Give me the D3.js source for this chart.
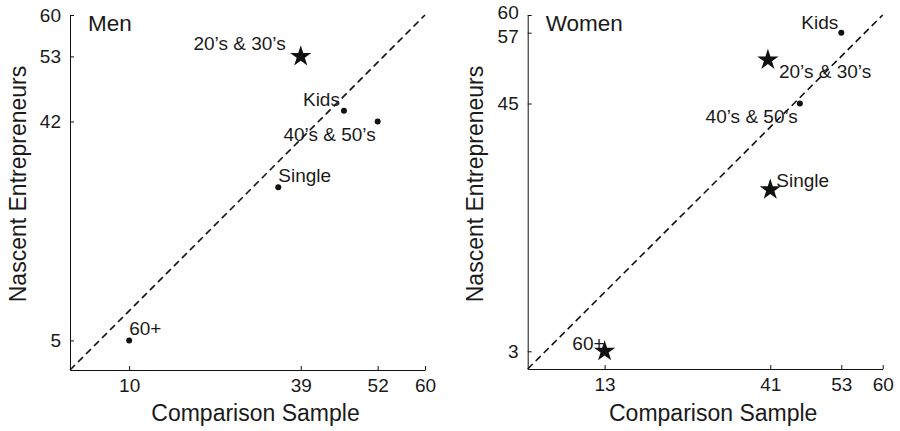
<!DOCTYPE html>
<html>
<head>
<meta charset="utf-8">
<script src="https://cdn.jsdelivr.net/npm/d3@7"></script>
<style>
  html, body { margin: 0; padding: 0; background: #fff; }
  svg { display: block; }
  text { font-family: "Liberation Sans", Arial, Helvetica, sans-serif; fill: #1a1a1a; }
</style>
</head>
<body>
<svg id="chart" width="900" height="431"></svg>
<script>
// ---- Data ----
const categories = ["20\u2019s & 30\u2019s", "Kids", "40\u2019s & 50\u2019s", "Single", "60+"];

const menComparison = [39, 46.3, 52, 35.2, 10];
const menNascent    = [53, 43.8, 42, 30.9, 5];
const menSignificant = [true, false, false, false, false];

const womenComparison = [40.6, 53, 46, 41, 13];
const womenNascent    = [52.4, 57, 45, 30.4, 3];
const womenSignificant = [true, false, false, true, true];

const menXTicks = [10, 39, 52, 60];
const menYTicks = [5, 42, 53, 60];
const womenXTicks = [13, 41, 53, 60];
const womenYTicks = [3, 45, 57, 60];

const axisDomain = [0, 60];
const xTitle = "Comparison Sample";
const yTitle = "Nascent Entrepreneurs";

// ---- Presentation (label placement relative to each point) ----
const menLabelPlacement = {
  "20\u2019s & 30\u2019s": { anchor: "end", dx: -15, dy: -6 },
  "Kids": { anchor: "end", dx: -4, dy: -5 },
  "40\u2019s & 50\u2019s": { anchor: "end", dx: -2, dy: 19 },
  "Single": { anchor: "start", dx: 0, dy: -5.5 },
  "60+": { anchor: "start", dx: 0, dy: -5 }
};
const womenLabelPlacement = {
  "20\u2019s & 30\u2019s": { anchor: "start", dx: 11, dy: 18 },
  "Kids": { anchor: "end", dx: -3, dy: -4 },
  "40\u2019s & 50\u2019s": { anchor: "end", dx: -2, dy: 19 },
  "Single": { anchor: "start", dx: 6, dy: -3 },
  "60+": { anchor: "end", dx: 0, dy: -1 }
};

const svg = d3.select("#chart");
const W = 355;

function drawPanel(opts) {
  const g = svg.append("g").attr("transform", `translate(${opts.left},${opts.top})`);
  const x = d3.scaleLinear().domain(axisDomain).range([0, W]);
  const y = d3.scaleLinear().domain(axisDomain).range([opts.h, 0]);

  // dashed identity line
  g.append("line")
    .attr("x1", x(axisDomain[0])).attr("y1", y(axisDomain[0]))
    .attr("x2", x(axisDomain[1])).attr("y2", y(axisDomain[1]))
    .attr("stroke", "#111").attr("stroke-width", 1.6)
    .attr("stroke-dasharray", "7,4.3");

  // axes
  const xAxis = d3.axisBottom(x).tickValues(opts.xTicks).tickSizeInner(-4).tickSizeOuter(0).tickPadding(9);
  const yAxis = d3.axisLeft(y).tickValues(opts.yTicks).tickSizeInner(-4).tickSizeOuter(0).tickPadding(9);

  const gx = g.append("g").attr("transform", `translate(0,${opts.h})`).call(xAxis);
  const gy = g.append("g").call(yAxis);
  [gx, gy].forEach(a => {
    a.select(".domain").attr("stroke", "#111").attr("stroke-width", 1);
    a.selectAll(".tick line").attr("stroke", "#111").attr("stroke-width", 1);
    a.selectAll(".tick text").attr("font-size", 19).attr("fill", "#1a1a1a")
      .attr("font-family", "'Liberation Sans', Arial, Helvetica, sans-serif");
  });
  if (opts.yTickDy) {
    gy.selectAll(".tick text").attr("dy", d => (opts.yTickDy[d] !== undefined ? opts.yTickDy[d] : 0.32) + "em");
  }

  // points
  const pts = categories.map((c, i) => ({ c, xv: opts.xs[i], yv: opts.ys[i], sig: opts.sig[i] }));
  const star = d3.symbol().type(d3.symbolStar).size(140);
  g.selectAll("path.star").data(pts.filter(d => d.sig)).join("path")
    .attr("class", "star")
    .attr("d", star)
    .attr("transform", d => `translate(${x(d.xv)},${y(d.yv)})`)
    .attr("fill", "#111");
  g.selectAll("circle.dot").data(pts.filter(d => !d.sig)).join("circle")
    .attr("class", "dot")
    .attr("cx", d => x(d.xv)).attr("cy", d => y(d.yv)).attr("r", 3)
    .attr("fill", "#111");

  // point labels
  g.selectAll("text.lbl").data(pts).join("text")
    .attr("class", "lbl")
    .attr("x", d => x(d.xv) + opts.place[d.c].dx)
    .attr("y", d => y(d.yv) + opts.place[d.c].dy)
    .attr("text-anchor", d => opts.place[d.c].anchor)
    .attr("font-size", 19)
    .text(d => d.c);

  // panel title
  g.append("text").attr("x", 18).attr("y", 16).attr("font-size", 22.5).text(opts.title);

  // axis titles
  g.append("text").attr("x", W / 2 + 8).attr("y", 406)
    .attr("text-anchor", "middle").attr("font-size", 23).text(xTitle);
  g.append("text")
    .attr("transform", `translate(${opts.yTitleX},${169}) rotate(-90)`)
    .attr("text-anchor", "middle").attr("font-size", 23).text(yTitle);
}

drawPanel({
  left: 70, top: 15, h: 355, title: "Men",
  xs: menComparison, ys: menNascent, sig: menSignificant,
  xTicks: menXTicks, yTicks: menYTicks, place: menLabelPlacement,
  yTitleX: -44
});
drawPanel({
  left: 527.7, top: 15, h: 354, title: "Women",
  xs: womenComparison, ys: womenNascent, sig: womenSignificant,
  xTicks: womenXTicks, yTicks: womenYTicks, place: womenLabelPlacement,
  yTitleX: -44.7,
  yTickDy: { 60: 0.2, 57: 0.5 }
});
</script>
</body>
</html>
